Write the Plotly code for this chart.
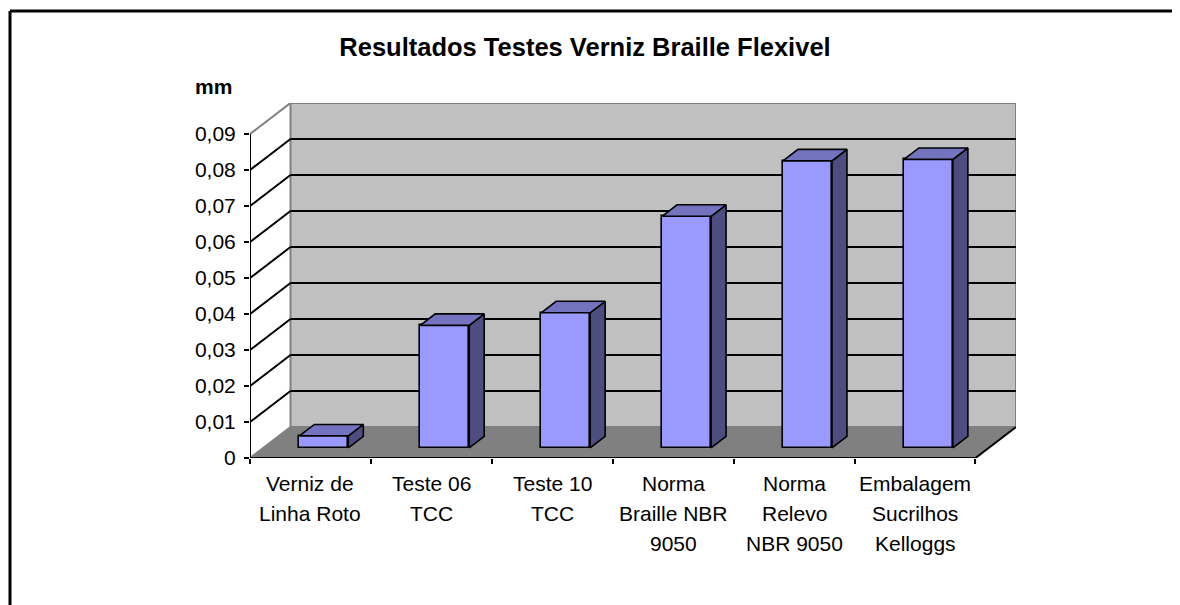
import plotly.graph_objects as go

# ---------------- data ----------------
categories = ["Verniz de<br>Linha Roto", "Teste 06<br>TCC", "Teste 10<br>TCC",
              "Norma<br>Braille NBR<br>9050", "Norma<br>Relevo<br>NBR 9050",
              "Embalagem<br>Sucrilhos<br>Kelloggs"]
values = [0.0033, 0.034, 0.0375, 0.0643, 0.0797, 0.0801]
y_tick_vals = [0, 0.01, 0.02, 0.03, 0.04, 0.05, 0.06, 0.07, 0.08, 0.09]
y_tick_text = ["0", "0,01", "0,02", "0,03", "0,04", "0,05", "0,06", "0,07", "0,08", "0,09"]
title_text = "Resultados Testes Verniz Braille Flexivel"
unit_text = "mm"

# ---------------- layout geometry ----------------
OFF = 8                      # page body margin
W, H = 1180 - OFF, 605 - OFF
L, T = 250 - OFF, 103 - OFF
PW, PH = 766, 355
R, B = W - L - PW, H - T - PH
n = len(categories)
ymax = y_tick_vals[-1]
DX = 0.335      # depth offset in category units
DY = 0.0086     # depth offset in value units
F1, F2 = 0.33, 0.70   # bar depth position (fraction of wall depth)
BW = 0.405      # bar width (category units)
FONT = "Arial, Liberation Sans, sans-serif"

def px2paper_x(px):
    return (px - OFF - L) / PW

def px2paper_y(py):
    return (H - B - (py - OFF)) / PH

fig = go.Figure()
x0, x1 = -0.5, n - 0.5

def seg(xa, ya, xb, yb, color, width):
    fig.add_shape(type="line", xref="x", yref="y", x0=xa, y0=ya, x1=xb, y1=yb,
                  line=dict(color=color, width=width), layer="below")

def poly(xs, ys, fill, color, width):
    path = "M " + " L ".join(f"{a},{b}" for a, b in zip(xs, ys)) + " Z"
    fig.add_shape(type="path", xref="x", yref="y", path=path, fillcolor=fill,
                  line=dict(color=color, width=width), layer="below")

# back wall
poly([x0 + DX, x1 + DX, x1 + DX, x0 + DX], [DY, DY, ymax + DY, ymax + DY],
     "#C0C0C0", "#808080", 2)
# floor
poly([x0, x1, x1 + DX, x0 + DX], [0, 0, DY, DY], "#808080", "#808080", 1)
# left wall edges
for v in (0, ymax):
    seg(x0, v, x0 + DX, v + DY, "#808080", 2)
# gridlines
for v in y_tick_vals[1:-1]:
    seg(x0, v, x0 + DX, v + DY, "black", 2)
    seg(x0 + DX, v + DY, x1 + DX, v + DY, "black", 2)
# front axis lines + right floor edge
seg(x0, 0, x0, ymax, "black", 2)
seg(x0, 0, x1, 0, "black", 2)
seg(x1, 0, x1 + DX, DY, "black", 2)

# bars: front faces
fig.add_trace(go.Bar(
    x=[i + F1 * DX for i in range(n)], y=values, base=F1 * DY, width=BW,
    marker=dict(color="#9999FF", line=dict(color="black", width=1.6)),
    showlegend=False, hoverinfo="skip"))

# bars: side and top faces
dd = F2 - F1
for i, v in enumerate(values):
    xl = i - BW / 2 + F1 * DX
    xr = i + BW / 2 + F1 * DX
    yb = F1 * DY
    fig.add_trace(go.Scatter(
        x=[xr, xr + dd * DX, xr + dd * DX, xr, xr],
        y=[yb, yb + dd * DY, v + yb + dd * DY, v + yb, yb],
        fill="toself", fillcolor="#4D4D80", mode="lines",
        line=dict(color="black", width=1.6), hoverinfo="skip", showlegend=False))
    fig.add_trace(go.Scatter(
        x=[xl, xr, xr + dd * DX, xl + dd * DX, xl],
        y=[v + yb, v + yb, v + yb + dd * DY, v + yb + dd * DY, v + yb],
        fill="toself", fillcolor="#7373C0", mode="lines",
        line=dict(color="black", width=1.6), hoverinfo="skip", showlegend=False))

# category labels, one annotation per line
for i, lab in enumerate(categories):
    for k, line in enumerate(lab.split("<br>")):
        fig.add_annotation(x=i, xref="x", y=0, yref="y", text=line, showarrow=False,
                           xanchor="center", yanchor="middle",
                           yshift=-(25 + 30 * k),
                           font=dict(family=FONT, size=21, color="black"))

# unit label
fig.add_annotation(x=px2paper_x(213), xref="paper", y=px2paper_y(86), yref="paper",
                   text="<b>" + unit_text + "</b>", showarrow=False,
                   xanchor="center", yanchor="middle",
                   font=dict(family=FONT, size=21, color="black"))

# outer frame (top and left edges; right/bottom lie outside the picture)
fig.add_shape(type="line", xref="paper", yref="paper",
              x0=px2paper_x(10), x1=px2paper_x(1180),
              y0=px2paper_y(11), y1=px2paper_y(11),
              line=dict(color="black", width=3))
fig.add_shape(type="line", xref="paper", yref="paper",
              x0=px2paper_x(10), x1=px2paper_x(10),
              y0=px2paper_y(11), y1=px2paper_y(605),
              line=dict(color="black", width=3))

fig.update_layout(
    width=W, height=H, autosize=False,
    margin=dict(l=L, r=R, t=T, b=B, pad=0),
    paper_bgcolor="white", plot_bgcolor="white",
    bargap=0,
    title=dict(text="<b>" + title_text + "</b>", x=(585 - OFF) / W, xanchor="center",
               y=1 - (47 - OFF) / H, yanchor="middle",
               font=dict(family=FONT, size=25.5, color="black")),
    xaxis=dict(range=[x0, x1 + DX], showgrid=False, zeroline=False, showline=False,
               tickmode="array", tickvals=[i - 0.5 for i in range(n + 1)],
               ticks="outside", ticklen=5, tickwidth=2, tickcolor="black",
               showticklabels=False, fixedrange=True),
    yaxis=dict(range=[0, ymax + DY], showgrid=False, zeroline=False, showline=False,
               tickmode="array", tickvals=y_tick_vals, ticktext=y_tick_text,
               ticks="outside", ticklen=5, tickwidth=2, tickcolor="black",
               ticklabelstandoff=4,
               tickfont=dict(family=FONT, size=21, color="black"), fixedrange=True),
)

fig.write_html("out.html", config={"displayModeBar": False})
